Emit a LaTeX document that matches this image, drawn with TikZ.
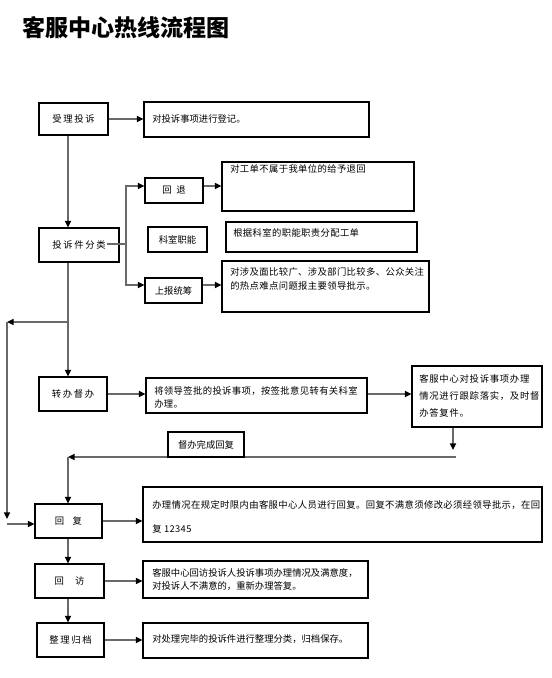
\documentclass[tikz,border=0pt]{standalone}
\usepackage{fontspec}
\newfontfamily\cjk{Noto Sans CJK SC}
\newfontfamily\cjksp[LetterSpace=18]{Noto Sans CJK SC}
\newfontfamily\cjkr[LetterSpace=4]{Noto Sans CJK SC}
\newfontfamily\cjkp[LetterSpace=8]{Noto Sans CJK SC}
\usetikzlibrary{arrows.meta}
\definecolor{lngray}{RGB}{105,105,105}
\begin{document}
\begin{tikzpicture}[x=0.75pt,y=-0.75pt,
  box/.style={draw=black,line width=0.85pt,fill=white,inner sep=0pt},
  sz/.style 2 args={minimum width=#1*0.75pt,minimum height=#2*0.75pt},
  lfont/.style={font=\cjksp\fontsize{7}{8}\selectfont},
  mfont/.style={font=\cjk\fontsize{7}{8}\selectfont},
  txt/.style={inner sep=0pt,align=left},
  conn/.style={draw=lngray,line width=1.2pt,-{Triangle[length=5pt,width=4.5pt,color=black,fill=black]}},
  plainln/.style={draw=lngray,line width=1.2pt}]
\useasboundingbox (0,0) rectangle (552,678);

\node[anchor=west,inner sep=0pt,font=\cjk\bfseries\fontsize{17.3}{20}\selectfont] (title) at (22,27.5) {客服中心热线流程图};

% left column
\node[box,sz={69}{32},lfont] (A) at (73.5,119) {受理投诉};
\node[box,sz={80}{34},lfont] (B) at (79,245) {投诉件分类};
\node[box,sz={68}{34},lfont] (C) at (73,394) {转办督办};
\node[box,sz={67}{34},mfont] (D) at (68.5,521) {回\hspace{0.9em}复};
\node[box,sz={69}{34},mfont] (E) at (69.5,581) {回\hspace{1.2em}访};
\node[box,sz={67}{34},lfont] (F) at (70.5,640) {整理归档};

% middle column
\node[box,sz={58}{25},mfont] (G) at (174,190.5) {回\hspace{0.5em}退};
\node[box,sz={59}{25},mfont] (H) at (177.5,239.5) {科室职能};
\node[box,sz={57}{25},mfont] (I) at (173.5,290.5) {上报统筹};

% right boxes
\node[box,sz={225}{35}] (K) at (256.5,119.5) {};
\node[box,sz={192}{49}] (L) at (318,186.5) {};
\node[box,sz={191}{30}] (M) at (321.5,237) {};
\node[box,sz={207}{51}] (N) at (325.5,286.5) {};
\node[box,sz={221}{35}] (O) at (256.5,395.5) {};
\node[box,sz={130}{61}] (P) at (477,396.5) {};
\node[box,sz={399}{55}] (Q) at (342.5,514.5) {};
\node[box,sz={225}{37}] (R) at (255.5,579.5) {};
\node[box,sz={225}{35}] (S) at (255.5,640.5) {};

% texts of right boxes
\node[txt,anchor=west,font=\cjk\fontsize{7}{8}\selectfont] (Kt) at (152,119) {对投诉事项进行登记。};
\node[txt,anchor=west,font=\cjkr\fontsize{7}{8}\selectfont] (Lt) at (230,169) {对工单不属于我单位的给予退回};
\node[txt,anchor=west,font=\cjkr\fontsize{7}{8}\selectfont] (Mt) at (233,232.5) {根据科室的职能职责分配工单};
\node[txt,anchor=north west,font=\cjkr\fontsize{7}{10.5}\selectfont] (Nt) at (230,267.5) {对涉及面比较广、涉及部门比较多、公众关注\\的热点难点问题报主要领导批示。};
\node[txt,anchor=north west,font=\cjkr\fontsize{7}{9.75}\selectfont] (Ot) at (154,386.5) {将领导签批的投诉事项，按签批意见转有关科室\\办理。};
\node[txt,anchor=north west,font=\cjkp\fontsize{7}{12.9}\selectfont] (Pt) at (419,374) {客服中心对投诉事项办理\\情况进行跟踪落实，及时督\\办答复件。};
\node[txt,anchor=north west,font=\cjkr\fontsize{7}{18}\selectfont] (Qt) at (152,500.5) {办理情况在规定时限内由客服中心人员进行回复。回复不满意须修改必须经领导批示，在回\\复 12345};
\node[txt,anchor=north west,font=\cjk\fontsize{7}{9.75}\selectfont] (Rt) at (152,568) {客服中心回访投诉人投诉事项办理情况及满意度，\\对投诉人不满意的，重新办理答复。};
\node[txt,anchor=west,font=\cjk\fontsize{7}{8}\selectfont] (St) at (152,639.5) {对处理完毕的投诉件进行整理分类，归档保存。};

% helper coordinates
\coordinate (colx) at (68,0);
\coordinate (bj) at (107,244);
\coordinate (br1) at (126,186);
\coordinate (br2) at (126,285);
\coordinate (lj) at (68,322);
\coordinate (lx) at (7,322);
\coordinate (lb) at (7,519);
\coordinate (lc) at (7,524);
\coordinate (pd) at (453,450);
\coordinate (rj) at (456,457);

% connectors
\draw[conn] (A.east) -- (A.east -| K.west);
\draw[conn] (A.south -| colx) -- (B.north -| colx);
\draw[conn] (bj) -| (br1) -- (br1 -| G.west);
\draw[conn] (bj -| br2) |- (I.west |- br2);
\draw[conn] (G.east |- br1) -- (L.west |- br1);
\draw[conn] (I.east |- br2) -- (N.west |- br2);
\draw[conn] (B.south -| colx) -- (C.north -| colx);
\draw[conn] (lj) -- (lx);
\draw[conn] (lx) -- (lb);
\draw[conn] (lc) -- (lc -| D.west);
\draw[conn] (C.east) -- (C.east -| O.west);
\draw[conn] (O.east |- C.east) -- (P.west |- C.east);
\draw[conn] (P.south -| pd) -- (pd);
\draw[conn] (rj) -- (rj -| colx);
\draw[conn] (rj -| colx) -- (D.north -| colx);
\draw[conn] (D.east) -- (D.east -| Q.west);
\draw[conn] (D.south -| colx) -- (E.north -| colx);
\draw[conn] (E.east) -- (E.east -| R.west);
\draw[conn] (E.south -| colx) -- (F.north -| colx);
\draw[conn] (F.east) -- (F.east -| S.west);

% box sitting on the return line
\node[box,sz={76}{25},mfont] (J) at (206,444.5) {督办完成回复};
\end{tikzpicture}
\end{document}
